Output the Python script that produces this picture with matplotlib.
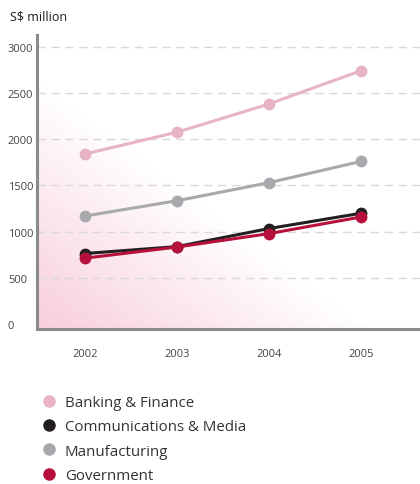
import numpy as np
import matplotlib
matplotlib.use("Agg")
import matplotlib.pyplot as plt
from matplotlib.lines import Line2D

plt.rcParams['font.family'] = ['Open Sans', 'DejaVu Sans']

years = [2002, 2003, 2004, 2005]
series_names = ["Banking & Finance", "Communications & Media", "Manufacturing", "Government"]
banking = [1840, 2075, 2380, 2740]
communications = [765, 840, 1035, 1200]
manufacturing = [1170, 1335, 1530, 1760]
government = [715, 835, 980, 1160]
colors = ["#E8B3C3", "#231F20", "#A8A9AC", "#B8103C"]
yticks = [0, 500, 1000, 1500, 2000, 2500, 3000]

W, H = 420, 485
fig = plt.figure(figsize=(W / 100, H / 100), dpi=100)
L, R, T, B = 37, 420, 36, 330
ax = fig.add_axes([L / W, (H - B) / H, (R - L) / W, (B - T) / H])

ax.set_xlim(2001.48, 2005.64)
ax.set_ylim(-50, 3125)

# diagonal pink gradient background
hh, ww = B - T, R - L
yy, xx = np.mgrid[0:hh, 0:ww]
X = L + xx
Y = T + yy
d = (X - 37) * 0.6 + (Y - 80) * (-0.8)
t = np.clip(-d / 200.0, 0, 1)
img = np.zeros((hh, ww, 4))
img[..., 0] = 248 / 255
img[..., 1] = 206 / 255
img[..., 2] = 219 / 255
img[..., 3] = t
ax.imshow(img, extent=[0, 1, 0, 1], transform=ax.transAxes, aspect='auto', zorder=0, interpolation='bilinear')

for yv in yticks[1:]:
    ax.axhline(yv, color="#d9d9d9", lw=1.0, ls=(0, (6, 4)), zorder=1)

data = [banking, communications, manufacturing, government]
for vals, c in zip(data, colors):
    ax.plot(years, vals, color=c, lw=2.2, marker='o', markersize=7.5, zorder=3, solid_capstyle='round')

for s in ['top', 'right']:
    ax.spines[s].set_visible(False)
for s in ['left', 'bottom']:
    ax.spines[s].set_color("#8a8b8d")
    ax.spines[s].set_linewidth(2.2)

ax.set_xticks(years)
ax.set_xticklabels([str(y) for y in years], fontsize=8, color="#444444")
ax.set_yticks(yticks)
ax.set_yticklabels([str(v) for v in yticks], fontsize=8, color="#444444", ha='left')
ax.tick_params(axis='both', length=0)
ax.tick_params(axis='x', pad=14)
ax.tick_params(axis='y', pad=21)

fig.text(10 / W, 1 - 17 / H, "S$ million", fontsize=9, color="#1a1a1a", va='center', ha='left',
         fontweight='medium')

handles = [Line2D([], [], marker='o', linestyle='none', color=c, markersize=8) for c in colors]
fig.legend(handles, series_names, loc='upper left', bbox_to_anchor=(43 / W, 1 - 396 / H),
           frameon=False, handlelength=0.8, handletextpad=0.65, labelspacing=0.62,
           fontsize=10.8, labelcolor="#333333", borderaxespad=0, borderpad=0)

fig.savefig("out.png", dpi=100)
